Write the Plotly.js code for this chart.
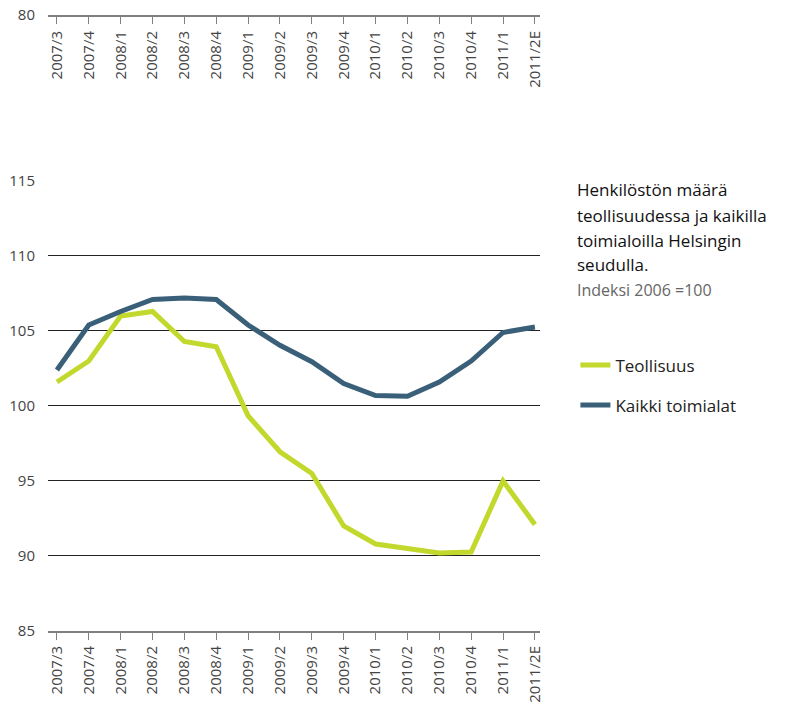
<!DOCTYPE html>
<html>
<head>
<meta charset="utf-8">
<script src="https://cdn.plot.ly/plotly-3.0.1.min.js"></script>
<style>html,body{margin:0;padding:0;background:#fff;}#chart{width:790px;height:704px;}</style>
</head>
<body>
<div id="chart"></div>
<script>
const quarters = ["2007/3","2007/4","2008/1","2008/2","2008/3","2008/4","2009/1","2009/2","2009/3","2009/4","2010/1","2010/2","2010/3","2010/4","2011/1","2011/2E"];
const teollisuus = [101.6,103.0,106.0,106.3,104.3,103.95,99.35,96.95,95.5,92.0,90.8,90.5,90.2,90.27,95.0,92.1];
const kaikki = [102.4,105.4,106.3,107.1,107.2,107.1,105.4,104.05,102.95,101.5,100.7,100.65,101.6,103.0,104.9,105.27];
const yTicks = [85,90,95,100,105,110,115];
const topTick = [80];
const seriesNames = ["Teollisuus","Kaikki toimialat"];
const titleLines = ["Henkilöstön määrä","teollisuudessa ja kaikilla","toimialoilla Helsingin","seudulla."];
const subtitle = "Indeksi 2006 =100";

const FONT = "Open Sans, Noto Sans, sans-serif";
const traces = [
  {x: quarters, y: teollisuus, type: "scatter", mode: "lines", name: seriesNames[0], legendgroup: "a",
   line: {color: "#c2d82c", width: 5}, xaxis: "x", yaxis: "y"},
  {x: quarters, y: kaikki, type: "scatter", mode: "lines", name: seriesNames[1], legendgroup: "b",
   line: {color: "#3a6079", width: 5}, xaxis: "x", yaxis: "y"},
  {x: quarters, y: quarters.map(() => null), type: "scatter", mode: "lines", showlegend: false,
   hoverinfo: "skip", xaxis: "x2", yaxis: "y2"}
];

const xr = [-0.28, 15.16];
const xTickFont = {family: FONT, size: 15, color: "#444"};
const yTickFont = {family: FONT, size: 15, color: "#444"};
const annotations = [];
const lineY = [0.7045, 0.6645, 0.6246, 0.5847];
titleLines.forEach((t, i) => annotations.push({
  text: t, xref: "paper", yref: "paper", x: 1.072, y: lineY[i], xanchor: "left", yanchor: "middle",
  showarrow: false, font: {family: FONT, size: 17, color: "#111"}
}));
annotations.push({text: subtitle, xref: "paper", yref: "paper", x: 1.072, y: 0.5447, xanchor: "left", yanchor: "middle",
  showarrow: false, font: {family: FONT, size: 16, color: "#666"}});

const layout = {
  width: 790, height: 704,
  margin: {l: 48, r: 250, t: 5, b: 73},
  paper_bgcolor: "#fff", plot_bgcolor: "#fff",
  showlegend: true,
  legend: {x: 1.072, y: 0.453, xanchor: "left", yanchor: "top", traceorder: "grouped", tracegroupgap: 15,
    font: {family: FONT, size: 17, color: "#222"}, bgcolor: "rgba(0,0,0,0)"},
  xaxis: {type: "category", range: xr, anchor: "y", showgrid: false, zeroline: false,
    showline: true, linecolor: "#808080", linewidth: 2, ticks: "outside", ticklen: 7, tickcolor: "#808080", tickwidth: 1,
    tickangle: -90, tickfont: xTickFont, ticklabelstandoff: 0},
  yaxis: {domain: [0, 0.71885], range: [85, 115], tickvals: yTicks, showgrid: true, gridcolor: "#222", gridwidth: 1,
    zeroline: false, showline: false, ticks: "", ticklabelstandoff: 12, tickfont: yTickFont},
  xaxis2: {type: "category", matches: "x", range: xr, anchor: "y2", showgrid: false, zeroline: false,
    showline: true, linecolor: "#808080", linewidth: 2, ticks: "outside", ticklen: 7, tickcolor: "#808080", tickwidth: 1,
    tickangle: -90, tickfont: xTickFont, ticklabelstandoff: 1},
  yaxis2: {domain: [0.984, 1], range: [80, 81], tickvals: topTick, showgrid: false, zeroline: false, showline: false,
    ticks: "", ticklabelstandoff: 12, tickfont: yTickFont},
  annotations: annotations
};
Plotly.newPlot("chart", traces, layout, {displayModeBar: false, staticPlot: true});
</script>
</body>
</html>
